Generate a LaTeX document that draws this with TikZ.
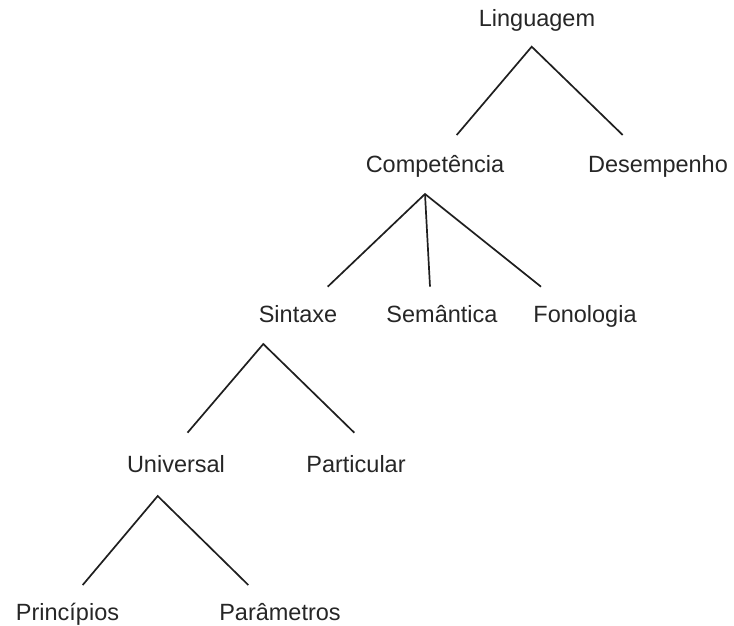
\documentclass[tikz,border=0pt]{standalone}
\usepackage{fontspec}
\setmainfont{Liberation Sans}
\begin{document}
\begin{tikzpicture}[x=1pt,y=1pt,
  lbl/.style={inner sep=0pt,anchor=base,font=\fontsize{23.5}{28}\selectfont,text=black!85},
  branch/.style={line width=1.7pt,black!88}]
\useasboundingbox (0,0) rectangle (734,-626);
% labels
\node[lbl] (ling) at (537,-27) {Linguagem};
\node[lbl] (comp) at (435,-172) {Competência};
\node[lbl] (desem) at (658,-172) {Desempenho};
\node[lbl] (sint) at (298,-322) {Sintaxe};
\node[lbl] (sem) at (442,-322) {Semântica};
\node[lbl] (fon) at (585,-322) {Fonologia};
\node[lbl] (univ) at (176,-472) {Universal};
\node[lbl] (part) at (356,-472) {Particular};
\node[lbl] (princ) at (67.5,-620) {Princípios};
\node[lbl] (param) at (280,-620) {Parâmetros};
% branch points
\coordinate (lingA) at (531.7,-46.7);
\coordinate (compE) at (456.7,-135);
\coordinate (desemE) at (622.7,-135);
\coordinate (compA) at (425,-194);
\coordinate (sintE) at (327.7,-286.7);
\coordinate (semE) at (430,-286.7);
\coordinate (fonE) at (541,-286.7);
\coordinate (sintA) at (263.3,-344);
\coordinate (univE) at (187.5,-432.7);
\coordinate (partE) at (354.3,-432.7);
\coordinate (univA) at (157.7,-496);
\coordinate (princE) at (82.7,-585);
\coordinate (paramE) at (248.3,-585);
% branches
\draw[branch] (compE) -- (lingA) -- (desemE);
\draw[branch] (sintE) -- (compA) -- (fonE);
\draw[branch] (compA) -- (semE);
\draw[branch] (univE) -- (sintA) -- (partE);
\draw[branch] (princE) -- (univA) -- (paramE);
\end{tikzpicture}
\end{document}
